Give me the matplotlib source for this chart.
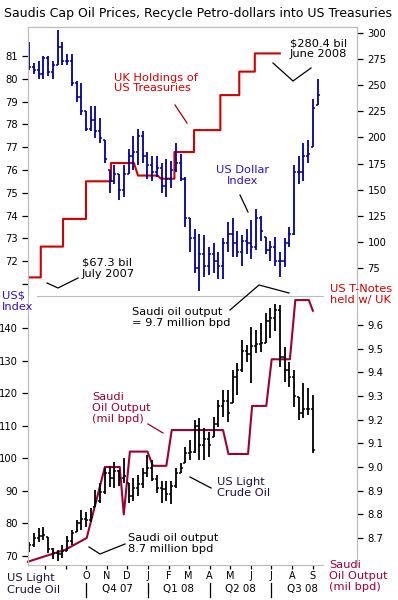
import numpy as np
import pandas as pd
import matplotlib
matplotlib.use('Agg')
import matplotlib.pyplot as plt
import matplotlib.dates as mdates
import matplotlib.transforms as mtransforms
from matplotlib.lines import Line2D

W, H = 398, 600

# ---- data ----
usd_weeks = pd.date_range('2007-07-09', periods=62, freq='7D')
usd_high = [81.6, 80.7, 80.8, 81.0, 81.0, 80.8, 82.15, 81.6, 81.1, 81.1,
            79.9, 79.8, 78.6, 78.8, 78.8, 78.3, 77.3, 76.0, 76.2, 75.8,
            76.2, 76.9, 77.5, 77.8, 77.7, 76.8, 76.6, 76.6, 76.3, 76.5,
            76.4, 77.2, 76.7, 75.7, 73.9, 73.4, 73.2, 73.15, 72.6, 72.8,
            72.4, 73.0, 73.7, 73.9, 73.3, 73.15, 73.4, 73.8, 74.3, 74.0,
            73.06, 72.9, 73.06, 72.4, 73.0, 73.5, 76.2, 76.6, 77.2, 77.3,
            79.1, 80.0]
usd_low = [80.4, 80.2, 80.0, 80.0, 80.1, 80.0, 80.6, 80.6, 80.6, 79.7,
           79.0, 78.4, 77.7, 77.7, 77.4, 77.2, 76.3, 75.0, 75.4, 74.7,
           74.8, 75.8, 76.0, 76.2, 76.3, 75.6, 75.5, 75.7, 75.0, 74.8,
           75.2, 75.9, 75.5, 73.5, 72.4, 71.5, 70.7, 71.3, 71.4, 71.5,
           71.2, 71.2, 72.4, 72.2, 72.2, 71.8, 72.3, 72.1, 72.5, 72.9,
           72.3, 72.0, 71.8, 71.3, 71.75, 72.6, 73.15, 75.4, 75.5, 76.3,
           77.0, 78.85]
usd_close = [80.5, 80.4, 80.2, 80.9, 80.3, 80.6, 81.4, 80.8, 80.8, 79.8,
             79.2, 78.6, 77.8, 78.2, 77.7, 77.4, 76.5, 75.5, 75.8, 75.1,
             75.8, 76.6, 76.8, 77.5, 76.6, 76.2, 75.9, 76.1, 75.3, 75.6,
             76.0, 76.3, 75.6, 73.9, 73.0, 71.7, 72.3, 71.8, 72.3, 72.0,
             71.8, 72.8, 73.2, 72.8, 72.4, 72.9, 72.8, 72.6, 73.9, 73.3,
             72.5, 72.6, 72.0, 72.0, 72.8, 73.2, 75.9, 75.9, 76.6, 76.7,
             78.7, 79.3]
usd_first_open = 81.3

oil_weeks = pd.date_range('2007-07-09', periods=61, freq='7D')
oil_high = [74.3, 77.0, 78.7, 79.0, 75.8, 72.5, 71.9, 73.4, 76.0, 78.0,
            81.0, 84.0, 83.5, 84.8, 90.3, 92.5, 97.0, 97.5, 99.0, 96.5,
            100.0, 92.5, 94.0, 95.0, 97.0, 101.0, 99.5, 95.0, 93.0, 93.0,
            93.0, 97.0, 98.6, 103.5, 105.6, 111.8, 112.4, 109.3, 108.0, 112.7,
            117.9, 121.0, 121.0, 127.0, 129.3, 136.3, 134.8, 140.3, 139.4, 141.5,
            144.6, 146.0, 147.2, 147.0, 134.0, 129.6, 127.0, 118.8, 123.1, 121.6,
            119.4]
oil_low = [71.3, 72.8, 74.3, 75.0, 71.0, 69.0, 68.5, 69.4, 71.5, 73.5,
           77.5, 78.0, 79.0, 80.5, 85.0, 86.3, 89.0, 91.2, 91.0, 91.5,
           92.5, 86.3, 87.0, 88.5, 91.0, 94.3, 93.0, 89.4, 86.3, 87.0,
           86.0, 91.0, 95.5, 98.6, 99.5, 101.7, 99.5, 99.5, 100.4, 106.6,
           109.6, 112.7, 111.2, 117.0, 119.4, 126.5, 129.6, 123.0, 132.3, 132.6,
           135.4, 137.0, 139.0, 128.0, 123.4, 121.9, 115.8, 111.8, 112.4, 113.3,
           101.7]
oil_close = [73.5, 75.5, 76.0, 76.5, 72.0, 71.0, 70.5, 71.5, 74.5, 77.0,
             80.0, 81.5, 81.0, 82.0, 87.0, 89.5, 95.5, 94.0, 96.0, 94.0,
             94.5, 88.5, 91.0, 92.0, 95.5, 97.0, 93.5, 91.0, 90.5, 89.0,
             91.5, 95.5, 97.0, 101.5, 102.0, 110.0, 104.0, 106.0, 104.0, 110.5,
             116.0, 117.5, 114.0, 125.0, 127.0, 133.0, 132.0, 134.5, 135.0, 135.5,
             142.0, 143.0, 145.5, 131.0, 127.0, 125.0, 119.0, 114.0, 115.0, 115.0,
             102.5]
oil_first_open = 72.5

# UK holdings of US Treasuries ($ bil), line vertices
uk_dates = ['2007-07-10', '2007-07-26', '2007-07-26', '2007-08-28', '2007-08-28',
            '2007-10-01', '2007-10-01', '2007-11-07', '2007-11-07', '2007-12-11',
            '2007-12-17', '2008-01-15', '2008-01-20', '2008-02-09', '2008-02-09',
            '2008-03-09', '2008-03-09', '2008-04-17', '2008-04-17', '2008-05-15',
            '2008-05-15', '2008-06-07', '2008-06-07', '2008-07-14']
uk_vals = [66, 66, 95.5, 95.5, 122, 122, 158, 158, 175.5, 175.5,
           163.5, 163.5, 160.5, 160.5, 186, 186, 207, 207, 240.5, 240.5,
           263, 263, 280.4, 280.4]

# Saudi oil output (mil bpd), line vertices
saudi_dates = ['2007-07-07', '2007-08-31', '2007-10-02', '2007-10-29', '2007-11-20',
               '2007-11-26', '2007-12-05', '2007-12-31', '2008-01-08', '2008-01-28',
               '2008-02-05', '2008-04-21', '2008-04-29', '2008-05-28', '2008-06-03',
               '2008-06-24', '2008-07-02', '2008-07-29', '2008-08-06', '2008-08-26',
               '2008-09-01']
saudi_vals = [8.60, 8.65, 8.70, 9.00, 9.00, 8.80, 9.065, 9.065, 9.005, 9.005,
              9.156, 9.156, 9.055, 9.055, 9.258, 9.258, 9.455, 9.455, 9.705, 9.705,
              9.66]

month_letters = ['', '', 'O', 'N', 'D', 'J', 'F', 'M', 'A', 'M', 'J', 'J', 'A', 'S']
month_starts = pd.date_range('2007-08-01', periods=14, freq='MS')
quarter_labels = ['Q4 07', 'Q1 08', 'Q2 08', 'Q3 08']
quarter_starts = pd.to_datetime(['2007-10-01', '2008-01-01', '2008-04-01',
                                 '2008-07-01', '2008-10-01'])

BLUE = '#000099'
RED = '#cc0000'
MAROON = '#990033'
VIOLET = '#3311bb'
GREY = '#bbbbbb'
DARK = '#1f0f3f'

plt.rcParams['font.family'] = ['DejaVu Sans']


def fx(x):
    return x / W


def fy(y):
    return 1 - y / H


def ohlc(ax, dates, first_open, high, low, close, color):
    x = mdates.date2num(dates)
    high, low, close = np.array(high), np.array(low), np.array(close)
    opn = np.clip(np.r_[first_open, close[:-1]], low, high)
    ax.vlines(x, low, high, color=color, lw=1.3)
    ax.hlines(opn, x - 3, x, color=color, lw=1.1)
    ax.hlines(close, x, x + 3, color=color, lw=1.1)


def pointer(xs, ys, color='black'):
    fig.add_artist(Line2D([fx(v) for v in xs], [fy(v) for v in ys],
                          transform=fig.transFigure, color=color, lw=0.9))


def style_axis(ax, fs=7.2):
    ax.tick_params(axis='both', colors='black', labelsize=fs, length=4, width=0.9)
    for s in ax.spines.values():
        s.set_color(GREY)


x0 = mdates.date2num(pd.Timestamp('2007-10-01'))
px_per_day = 185 / 274.0
xlim = (x0 + (28 - 86) / px_per_day, x0 + (357 - 86) / px_per_day)


def date_at(xp):
    return x0 + (xp - 86) / px_per_day


fig = plt.figure(figsize=(W / 100, H / 100), dpi=100)

# ---- top panel ----
ax1 = fig.add_axes([fx(28), fy(296), 329 / W, 269 / H])
ax1r = ax1.twinx()
ax1.set_zorder(ax1r.get_zorder() + 1)
ax1.patch.set_visible(False)

ohlc(ax1, usd_weeks, usd_first_open, usd_high, usd_low, usd_close, BLUE)
ax1r.plot(pd.to_datetime(uk_dates), uk_vals, color=RED, lw=1.5)

ax1.set_xlim(xlim)
ax1.set_ylim(70.47, 82.27)
ax1r.set_ylim(48.2, 305.7)
ax1.set_yticks(range(71, 82))
ax1.set_yticklabels([''] + [str(v) for v in range(72, 82)])
ax1r.set_yticks(range(75, 301, 25))
ax1.set_xticks([])
for a in (ax1, ax1r):
    style_axis(a)
ax1.spines['bottom'].set_bounds(date_at(37), date_at(323))
ax1r.spines['bottom'].set_visible(False)

# ---- bottom panel ----
ax2 = fig.add_axes([fx(28), fy(565), 329 / W, 268 / H])
ax2r = ax2.twinx()
ax2.set_zorder(ax2r.get_zorder() + 1)
ax2.patch.set_visible(False)

ohlc(ax2, oil_weeks, oil_first_open, oil_high, oil_low, oil_close, 'black')
ax2r.plot(pd.to_datetime(saudi_dates), saudi_vals, color=MAROON, lw=1.5,
          clip_on=False)

ax2.set_xlim(xlim)
ax2.set_ylim(67.24, 149.5)
ax2r.set_ylim(8.586, 9.718)
ax2.set_yticks(range(70, 141, 10))
ax2r.set_yticks(np.round(np.arange(8.7, 9.61, 0.1), 1))
ax2r.set_yticklabels([f'{v:.1f}' for v in np.arange(8.7, 9.61, 0.1)])
for a in (ax2, ax2r):
    style_axis(a)
    a.spines['top'].set_visible(False)
ax2.spines['left'].set_bounds(67.24, 143.0)
ax2r.spines['right'].set_bounds(8.649, 9.663)
ax2.spines['bottom'].set_bounds(xlim[0], date_at(323))
ax2r.spines['bottom'].set_visible(False)

ax2.set_xticks(mdates.date2num(month_starts))
ax2.set_xticklabels(month_letters)
ax2.tick_params(axis='x', length=3, pad=1.5, labelsize=7.0)

# quarter row
qtrans = mtransforms.blended_transform_factory(ax2.transData, fig.transFigure)
qx = mdates.date2num(quarter_starts)
for i, lab in enumerate(quarter_labels):
    ax2.text((qx[i] + qx[i + 1]) / 2, fy(589), lab, transform=qtrans,
             ha='center', va='center', fontsize=7.4, clip_on=False)
for q in qx[:4]:
    ax2.add_line(Line2D([q, q], [fy(583), fy(597)], transform=qtrans,
                        color='black', lw=0.9, clip_on=False))

# ---- texts ----
fig.text(fx(4), fy(13), 'Saudis Cap Oil Prices, Recycle Petro-dollars into US Treasuries',
         fontsize=9.0, va='center', ha='left')

fs = 8.2
fig.text(fx(114), fy(83), 'UK Holdings of\nUS Treasuries', color=RED, fontsize=fs,
         va='center', ha='left', linespacing=1.1)
pointer([175, 187], [105, 123], color='#a00000')

fig.text(fx(290), fy(49), '$280.4 bil\nJune 2008', color='black', fontsize=fs,
         va='center', ha='left', linespacing=1.1)
pointer([273, 293, 311], [63, 81, 68])

fig.text(fx(243), fy(175.5), 'US Dollar\nIndex', color=VIOLET, fontsize=fs,
         va='center', ha='center', linespacing=1.15)
pointer([240, 248], [195, 212])

fig.text(fx(82), fy(268), '$67.3 bil\nJuly 2007', color='black', fontsize=fs,
         va='center', ha='left', linespacing=1.15)
pointer([47, 58, 78], [283, 288, 278])

fig.text(fx(2), fy(301), 'US$\nIndex', color=VIOLET, fontsize=fs,
         va='center', ha='left', linespacing=1.15)

fig.text(fx(330), fy(294.5), 'US T-Notes\nheld w/ UK', color=RED, fontsize=fs,
         va='center', ha='left', linespacing=1.15)

fig.text(fx(132), fy(317.5), 'Saudi oil output\n= 9.7 million bpd', color='black',
         fontsize=fs, va='center', ha='left', linespacing=1.15)
pointer([230, 259, 289], [310, 285, 293])

fig.text(fx(92), fy(408), 'Saudi\nOil Output\n(mil bpd)', color=MAROON, fontsize=fs,
         va='center', ha='left', linespacing=1.15)
pointer([148, 163], [424, 433], color=MAROON)

fig.text(fx(217), fy(487.5), 'US Light\nCrude Oil', color=DARK, fontsize=fs,
         va='center', ha='left', linespacing=1.15)
pointer([190, 211], [477, 488])

fig.text(fx(128), fy(543.5), 'Saudi oil output\n8.7 million bpd', color='black',
         fontsize=fs, va='center', ha='left', linespacing=1.15)
pointer([89, 100, 125], [547, 554, 544])

fig.text(fx(7), fy(584), 'US Light\nCrude Oil', color=DARK, fontsize=fs,
         va='center', ha='left', linespacing=1.15)

fig.text(fx(329), fy(576), 'Saudi\nOil Output\n(mil bpd)', color=MAROON, fontsize=fs,
         va='center', ha='left', linespacing=1.15)

fig.savefig('out.png', dpi=100)
